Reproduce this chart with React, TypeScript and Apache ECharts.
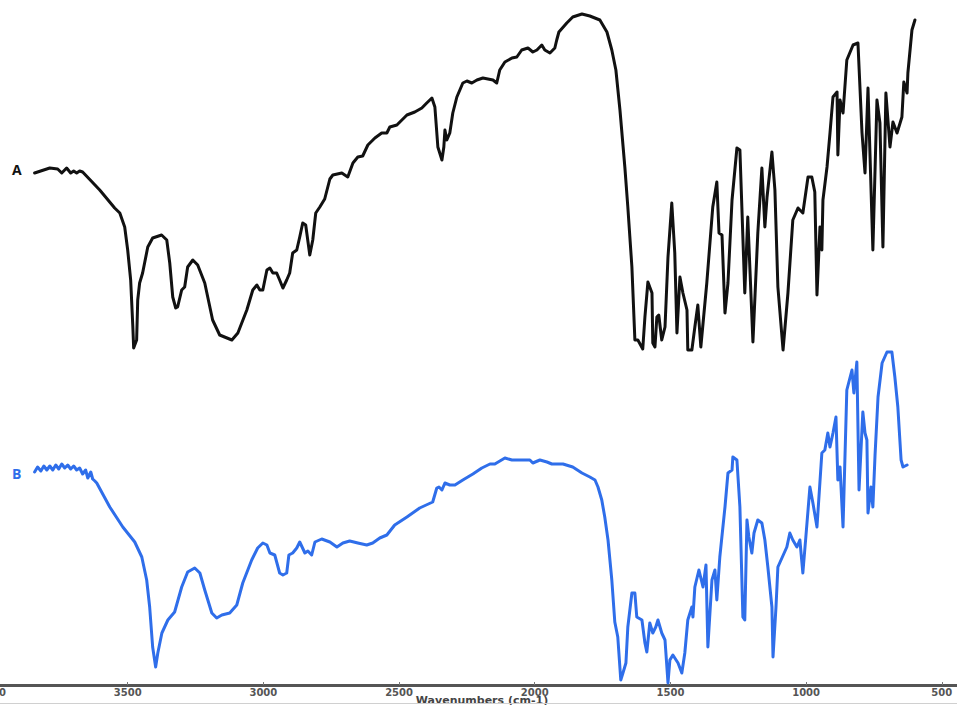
import React, { useEffect, useRef } from "react";
import * as echarts from "echarts";

// Spectrum A (black): wavenumber (cm-1) and transmittance (arbitrary units, offset)
const aWavenumbers = [
  3843, 3787, 3758, 3743, 3725, 3710, 3699, 3688, 3677, 3666, 3603, 3548, 3529, 3511, 3500, 3489, 3481, 3478, 3467, 3463,
  3456, 3445, 3426, 3408, 3375, 3356, 3345, 3334, 3323, 3316, 3301, 3290, 3279, 3260, 3242, 3216, 3187, 3161, 3116, 3094,
  3061, 3039, 3024, 3013, 3002, 2987, 2976, 2965, 2951, 2940, 2928, 2914, 2903, 2892, 2877, 2866, 2855, 2844, 2829, 2818,
  2807, 2792, 2774, 2755, 2744, 2711, 2689, 2670, 2652, 2634, 2615, 2589, 2564, 2545, 2534, 2508, 2471, 2442, 2416, 2398,
  2379, 2368, 2357, 2342, 2335, 2331, 2324, 2313, 2302, 2287, 2265, 2250, 2232, 2213, 2191, 2154, 2140, 2129, 2110, 2084,
  2066, 2048, 2025, 2007, 1992, 1974, 1963, 1944, 1926, 1919, 1911, 1882, 1860, 1826, 1797, 1760, 1734, 1716, 1701, 1686,
  1668, 1657, 1642, 1631, 1620, 1602, 1594, 1583, 1568, 1565, 1557, 1550, 1543, 1532, 1520, 1509, 1495, 1484, 1476, 1465,
  1454, 1439, 1436, 1421, 1410, 1399, 1388, 1366, 1344, 1329, 1321, 1310, 1299, 1288, 1273, 1255, 1244, 1226, 1215, 1196,
  1178, 1163, 1152, 1144, 1126, 1115, 1104, 1085, 1067, 1049, 1030, 1012, 993, 979, 968, 960, 949, 942, 938, 923,
  912, 901, 886, 883, 875, 864, 850, 827, 809, 794, 783, 772, 757, 754, 739, 728, 717, 706, 691, 680,
  665, 647, 640, 628, 625, 610, 599,
];
const aValues = [
  512, 517, 516, 512, 517, 512, 514, 512, 514, 513, 495, 477, 472, 458, 435, 405, 358, 337, 345, 385,
  402, 412, 438, 447, 450, 445, 422, 388, 377, 378, 395, 398, 418, 425, 420, 402, 365, 350, 345, 352,
  375, 395, 400, 395, 395, 415, 417, 412, 412, 405, 397, 405, 412, 432, 435, 448, 462, 460, 430, 445,
  472, 478, 486, 506, 510, 512, 508, 522, 528, 529, 540, 547, 552, 552, 558, 560, 570, 573, 577, 582,
  587, 578, 538, 525, 538, 555, 545, 552, 572, 588, 602, 604, 602, 605, 607, 605, 602, 615, 623, 627,
  628, 635, 637, 633, 635, 640, 635, 632, 637, 645, 653, 662, 668, 671, 669, 665, 653, 635, 615, 575,
  518, 478, 418, 345, 345, 336, 368, 403, 392, 342, 338, 368, 370, 345, 358, 428, 482, 432, 352, 408,
  392, 375, 335, 335, 358, 380, 338, 402, 478, 503, 452, 450, 372, 402, 485, 537, 535, 392, 468, 343,
  452, 517, 458, 488, 533, 495, 398, 335, 392, 465, 477, 472, 508, 508, 493, 390, 458, 435, 485, 518,
  552, 588, 593, 530, 585, 572, 625, 640, 642, 552, 512, 597, 462, 435, 585, 562, 438, 592, 538, 563,
  552, 568, 603, 592, 612, 655, 665,
];

// Spectrum B (blue)
const bWavenumbers = [
  3843, 3832, 3820, 3809, 3798, 3787, 3776, 3765, 3754, 3743, 3732, 3721, 3710, 3699, 3688, 3677, 3666, 3655, 3647, 3636,
  3629, 3621, 3614, 3566, 3518, 3474, 3448, 3430, 3419, 3408, 3397, 3389, 3374, 3352, 3327, 3301, 3279, 3253, 3234, 3216,
  3190, 3172, 3153, 3124, 3098, 3076, 3043, 3021, 3002, 2987, 2976, 2958, 2940, 2928, 2914, 2906, 2892, 2877, 2866, 2847,
  2836, 2822, 2810, 2785, 2755, 2729, 2707, 2682, 2652, 2619, 2597, 2571, 2545, 2516, 2471, 2424, 2376, 2361, 2353, 2342,
  2331, 2313, 2294, 2265, 2228, 2195, 2165, 2147, 2110, 2084, 2055, 2018, 2007, 1981, 1955, 1937, 1896, 1860, 1826, 1797,
  1778, 1767, 1753, 1742, 1730, 1716, 1705, 1694, 1683, 1675, 1664, 1657, 1642, 1631, 1624, 1605, 1594, 1587, 1576, 1565,
  1554, 1546, 1532, 1520, 1509, 1502, 1491, 1472, 1458, 1447, 1436, 1421, 1417, 1410, 1395, 1380, 1369, 1362, 1347, 1336,
  1329, 1318, 1299, 1288, 1273, 1270, 1255, 1244, 1233, 1226, 1218, 1211, 1200, 1192, 1178, 1163, 1152, 1141, 1126, 1122,
  1111, 1104, 1071, 1060, 1049, 1034, 1023, 1012, 1001, 986, 975, 960, 942, 931, 920, 912, 901, 890, 883, 875,
  864, 850, 831, 824, 813, 805, 791, 783, 776, 772, 761, 754, 746, 735, 720, 702, 684, 673, 662, 650,
  643, 628,
];
const bValues = [
  213, 218, 214, 219, 215, 219, 215, 220, 216, 221, 217, 220, 216, 219, 215, 217, 211, 215, 207, 213,
  206, 204, 202, 178, 158, 143, 128, 105, 78, 38, 18, 32, 52, 65, 73, 98, 113, 117, 112, 95,
  72, 67, 70, 72, 80, 102, 125, 137, 142, 140, 132, 130, 112, 110, 112, 130, 132, 137, 143, 132,
  134, 130, 143, 146, 143, 138, 142, 144, 142, 140, 142, 147, 150, 160, 168, 177, 183, 197, 198, 195,
  202, 200, 200, 205, 211, 217, 221, 221, 227, 225, 225, 225, 222, 225, 223, 221, 221, 218, 212, 208,
  205, 198, 185, 168, 145, 105, 63, 48, 5, 12, 22, 58, 92, 92, 68, 65, 42, 33, 62, 52,
  58, 65, 52, 45, 2, 25, 30, 22, 12, 32, 65, 78, 68, 98, 115, 98, 120, 38, 105, 115,
  85, 128, 178, 212, 215, 228, 225, 178, 68, 65, 165, 148, 132, 152, 165, 162, 145, 118, 78, 28,
  78, 118, 138, 152, 145, 138, 145, 112, 148, 198, 182, 158, 232, 235, 252, 238, 252, 268, 205, 218,
  158, 295, 315, 292, 323, 195, 273, 252, 245, 172, 198, 178, 230, 288, 322, 333, 333, 308, 278, 225,
  218, 220,
];

const tickValues = [4000, 3500, 3000, 2500, 2000, 1500, 1000, 500];
const axisTitle = "Wavenumbers (cm-1)";

const BLACK = "#111111";
const BLUE = "#2f6eea";

export default function App() {
  const ref = useRef<HTMLDivElement>(null);
  useEffect(() => {
    if (!ref.current) return;
    const chart = echarts.init(ref.current, null, { renderer: "svg" });
    const seriesA = aWavenumbers.map((w, i) => [w, aValues[i]]);
    const seriesB = bWavenumbers.map((w, i) => [w, bValues[i]]);
    chart.setOption({
      animation: false,
      backgroundColor: "#ffffff",
      grid: {
        left: -8,
        right: 0,
        top: 0,
        bottom: 20,
        containLabel: false,
        outerBoundsMode: "none",
      },
      xAxis: {
        type: "value",
        inverse: true,
        min: 444,
        max: 4000,
        axisLine: { lineStyle: { color: "#555", width: 3 } },
        axisTick: {
          show: true,
          inside: true,
          length: 3,
          customValues: tickValues,
          lineStyle: { color: "#777", width: 1 },
        },
        axisLabel: {
          customValues: tickValues,
          formatter: (v: number) => String(v),
          fontSize: 10,
          lineHeight: 10,
          fontWeight: "bold",
          color: "#555",
          margin: 2,
          fontFamily: "DejaVu Sans",
        },
        splitLine: { show: false },
      },
      yAxis: { type: "value", min: 0, max: 685, show: false },
      series: [
        {
          name: "A",
          type: "line",
          data: seriesA,
          symbol: "none",
          lineStyle: { color: BLACK, width: 3, join: "round", cap: "round" },
          z: 3,
        },
        {
          name: "B",
          type: "line",
          data: seriesB,
          symbol: "none",
          lineStyle: { color: BLUE, width: 3, join: "round", cap: "round" },
          z: 2,
        },
      ],
      graphic: [
        {
          type: "text",
          left: 12,
          top: 162,
          style: { text: "A", fontSize: 14, fontWeight: "bold", fill: BLACK, fontFamily: "Open Sans" },
        },
        {
          type: "text",
          left: 12,
          top: 466,
          style: { text: "B", fontSize: 14, fontWeight: "bold", fill: BLUE, fontFamily: "Open Sans" },
        },
        {
          type: "text",
          x: 482,
          y: 695,
          style: {
            text: axisTitle,
            fontSize: 11,
            lineHeight: 10,
            fontWeight: "bold",
            fill: "#444",
            fontFamily: "DejaVu Sans",
            align: "center",
            verticalAlign: "top",
          },
        },
        {
          type: "line",
          shape: { x1: 0, y1: 703.5, x2: 957, y2: 703.5 },
          style: { stroke: "#d0d0d0", lineWidth: 1 },
        },
      ],
    });
    return () => chart.dispose();
  }, []);
  return (
    <div
      ref={ref}
      style={{ position: "fixed", left: 0, top: 0, width: 957, height: 705, background: "#fff" }}
    />
  );
}
